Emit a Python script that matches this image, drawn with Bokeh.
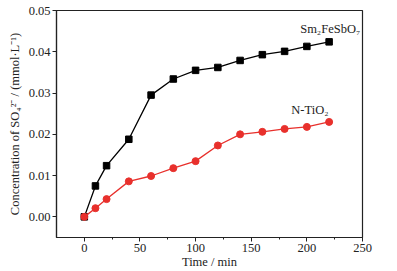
from bokeh.plotting import figure
from bokeh.embed import file_html
from bokeh.resources import INLINE
from bokeh.models import Range1d, FixedTicker, NumeralTickFormatter
from bokeh.core.properties import value

time = [0, 10, 20, 40, 60, 80, 100, 120, 140, 160, 180, 200, 220]
sm_conc = [0.0, 0.0075, 0.0124, 0.0188, 0.0295, 0.0334, 0.0355, 0.0362, 0.0379, 0.0393, 0.0401, 0.0413, 0.0424]
ti_conc = [0.0, 0.0021, 0.0043, 0.0086, 0.0099, 0.0118, 0.0135, 0.0173, 0.0200, 0.0206, 0.0213, 0.0218, 0.0230]
x_ticks = [0, 50, 100, 150, 200, 250]
y_ticks = [0.00, 0.01, 0.02, 0.03, 0.04, 0.05]
labels = ["Sm₂FeSbO₇", "N-TiO₂"]
label_x = [194, 186]
label_y = [0.0455, 0.0259]

FONT = "Liberation Serif"
RED = "#e8302c"

p = figure(width=397, height=271, output_backend="svg", toolbar_location=None,
           x_range=Range1d(-25, 250), y_range=Range1d(-0.005, 0.05),
           min_border_left=56, min_border_right=35, min_border_top=10, min_border_bottom=33)
p.background_fill_color = "white"
p.border_fill_color = "white"
p.outline_line_color = "#222222"
p.outline_line_width = 1.2
p.grid.visible = False

p.xaxis.ticker = FixedTicker(ticks=x_ticks, minor_ticks=[25, 75, 125, 175, 225])
p.yaxis.ticker = FixedTicker(ticks=y_ticks, minor_ticks=[])
p.yaxis.formatter = NumeralTickFormatter(format="0.00")
for ax in (p.xaxis, p.yaxis):
    ax.axis_line_color = "#222222"
    ax.axis_line_width = 1.2
    ax.major_tick_line_color = "#222222"
    ax.minor_tick_line_color = "#222222"
    ax.major_tick_in = 0
    ax.major_tick_out = 4
    ax.minor_tick_in = 0
    ax.minor_tick_out = 2
    ax.major_label_text_font = FONT
    ax.major_label_text_font_size = "12.5px"
    ax.major_label_text_color = "#222222"
    ax.axis_label_text_font = FONT
    ax.axis_label_text_font_size = "12.5px"
    ax.axis_label_text_font_style = "normal"
    ax.axis_label_text_color = "#222222"
    ax.major_label_standoff = 2
p.xaxis.axis_label = "Time / min"
p.xaxis.axis_label_standoff = 0
p.yaxis.axis_label = "Concentration of SO₄²⁻ / (mmol·L⁻¹)"
p.yaxis.axis_label_standoff = 4

p.line(time, sm_conc, line_color="black", line_width=1.3)
p.scatter(time, sm_conc, marker="square", size=6.5, fill_color="black", line_color="black")
p.line(time, ti_conc, line_color=RED, line_width=1.3)
p.scatter(time, ti_conc, marker="circle", size=7, fill_color=RED, line_color=RED)

p.text(x=label_x, y=label_y, text=labels, text_font=value(FONT), text_font_size="12.5px",
       text_color="#222222", text_baseline="middle", text_align="left")

open("out.html", "w").write(file_html(p, INLINE))
